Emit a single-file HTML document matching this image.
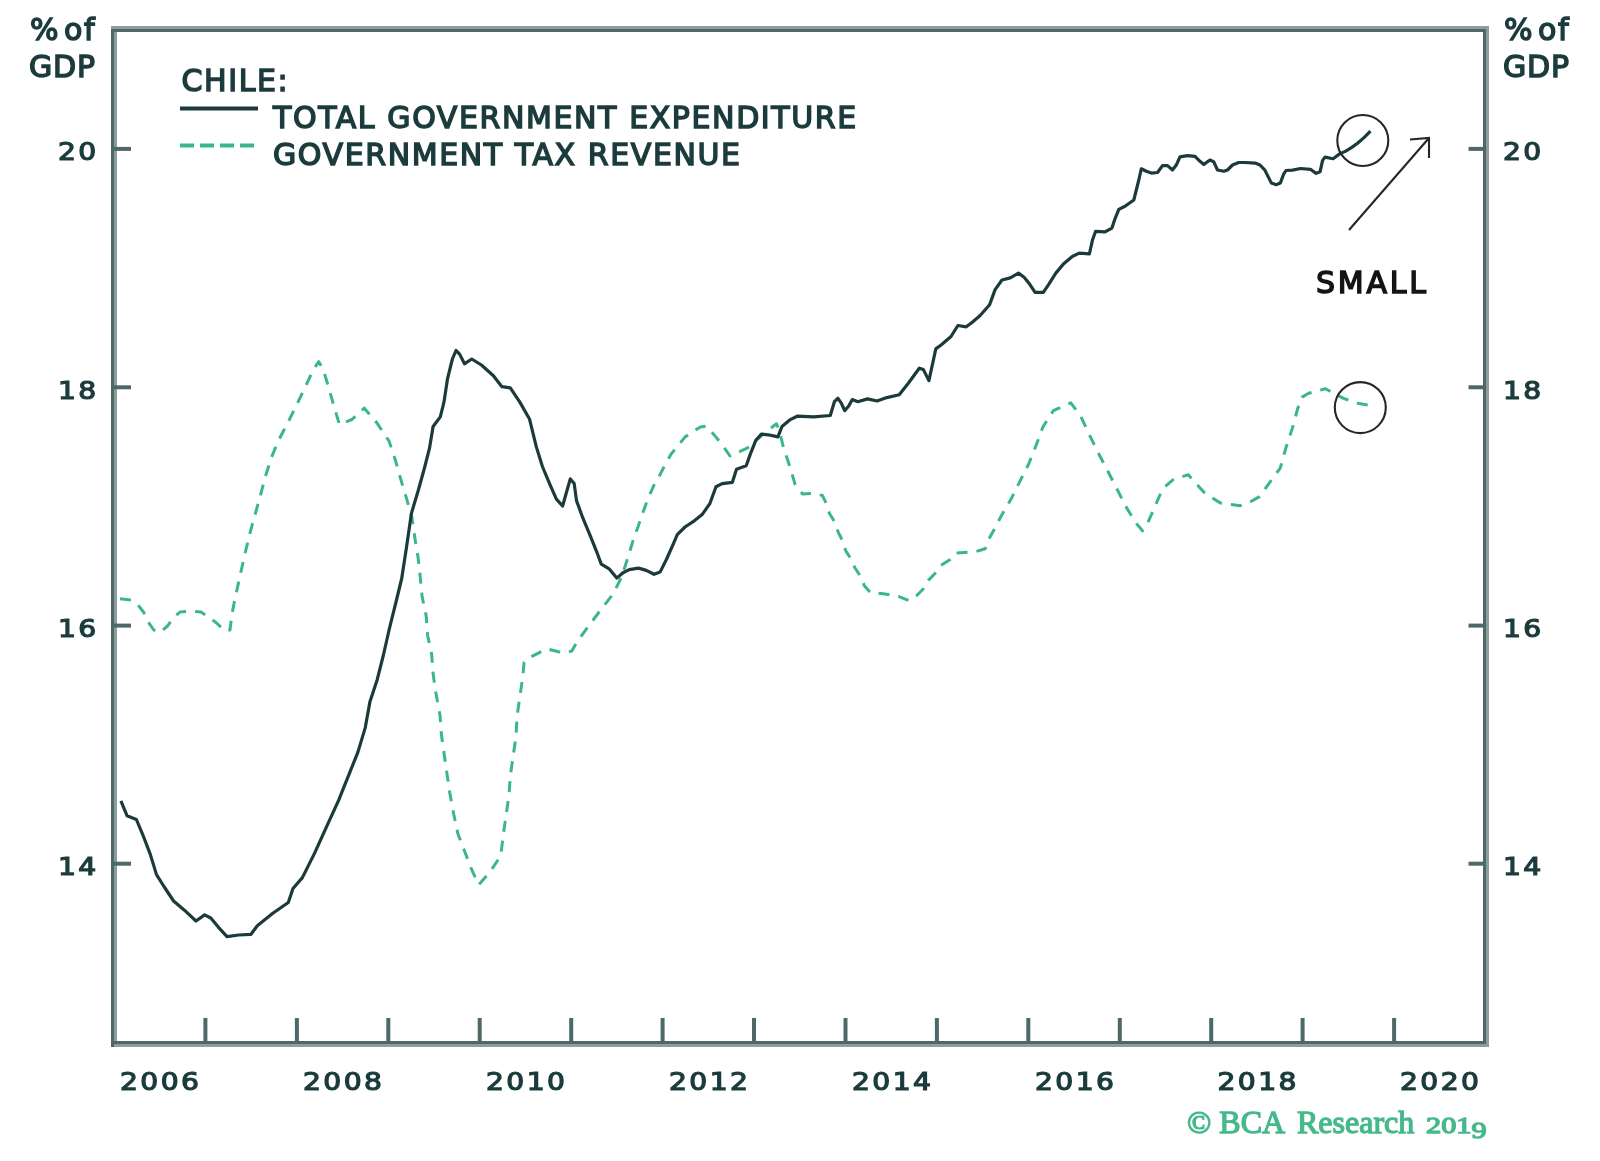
<!DOCTYPE html>
<html><head><meta charset="utf-8"><title>Chile: government expenditure vs tax revenue</title>
<style>
html,body{margin:0;padding:0;background:#fff;}
body{width:1600px;height:1161px;overflow:hidden;}
svg{display:block;filter:blur(0.45px);}
.t{font-family:"DejaVu Sans","Liberation Sans",sans-serif;font-weight:400;fill:#1b3b3c;stroke:#1b3b3c;stroke-width:1.5px;}
.num{font-size:24.5px;letter-spacing:2.1px;stroke-width:1.25px;}
.lg{font-size:30px;letter-spacing:1.6px;}
.sm{fill:#141414;stroke:#141414;letter-spacing:2.8px;}
.cp{font-family:"Liberation Serif","DejaVu Serif",serif;font-size:32px;font-weight:400;fill:#45b98c;stroke:#45b98c;stroke-width:1.3px;}
</style></head>
<body>
<svg width="1600" height="1161" viewBox="0 0 1600 1161">
<rect width="1600" height="1161" fill="#fff"/>
<g fill="#4f6767">
<rect x="111" y="29" width="3" height="1018"/>
<rect x="111" y="29" width="1378" height="3"/>
<rect x="1483" y="29" width="3" height="1015"/>
<rect x="111" y="1041" width="1375" height="3"/>
</g>
<g fill="#8b9e9d">
<rect x="114" y="32" width="3" height="1009"/>
<rect x="111" y="26" width="1378" height="3"/>
<rect x="1486" y="29" width="3" height="1018"/>
<rect x="114" y="1044" width="1372" height="3"/>
</g>
<g stroke="#4d6868" stroke-width="4" fill="none">
<line x1="205.4" y1="1043.5" x2="205.4" y2="1018"/><line x1="296.9" y1="1043.5" x2="296.9" y2="1018"/><line x1="388.3" y1="1043.5" x2="388.3" y2="1018"/><line x1="479.7" y1="1043.5" x2="479.7" y2="1018"/><line x1="571.2" y1="1043.5" x2="571.2" y2="1018"/><line x1="662.6" y1="1043.5" x2="662.6" y2="1018"/><line x1="754.0" y1="1043.5" x2="754.0" y2="1018"/><line x1="845.5" y1="1043.5" x2="845.5" y2="1018"/><line x1="936.9" y1="1043.5" x2="936.9" y2="1018"/><line x1="1028.3" y1="1043.5" x2="1028.3" y2="1018"/><line x1="1119.8" y1="1043.5" x2="1119.8" y2="1018"/><line x1="1211.2" y1="1043.5" x2="1211.2" y2="1018"/><line x1="1302.6" y1="1043.5" x2="1302.6" y2="1018"/><line x1="1394.1" y1="1043.5" x2="1394.1" y2="1018"/>
<line x1="114" y1="148.9" x2="131" y2="148.9"/><line x1="1485.5" y1="148.9" x2="1468.5" y2="148.9"/><line x1="114" y1="387.3" x2="131" y2="387.3"/><line x1="1485.5" y1="387.3" x2="1468.5" y2="387.3"/><line x1="114" y1="625.6" x2="131" y2="625.6"/><line x1="1485.5" y1="625.6" x2="1468.5" y2="625.6"/><line x1="114" y1="863.7" x2="131" y2="863.7"/><line x1="1485.5" y1="863.7" x2="1468.5" y2="863.7"/>
</g>
<polyline points="120.0,598.8 131.0,600.0 138.8,606.0 143.8,612.5 147.5,621.0 153.8,630.0 160.0,632.5 167.5,626.0 173.8,617.5 180.0,612.0 190.0,611.0 201.0,612.0 209.0,617.5 216.0,622.5 225.0,631.0 230.0,630.0 232.0,613.8 235.0,598.8 240.0,576.0 244.0,558.0 249.6,534.2 254.8,515.6 260.0,497.0 265.1,477.4 271.3,457.8 278.6,440.2 287.9,422.6 297.1,404.0 305.4,386.5 313.7,368.9 318.8,361.7 323.0,368.9 328.1,385.5 333.3,404.0 339.5,424.7 351.9,419.5 364.3,408.2 376.7,422.6 389.1,441.2 395.3,459.8 400.5,478.4 406.7,499.1 411.8,516.5 414.9,538.3 418.0,556.9 420.1,575.5 422.1,596.6 426.2,615.9 427.6,635.2 431.7,654.5 433.1,673.8 435.9,693.1 440.0,715.2 441.4,734.5 444.1,753.8 446.9,773.1 449.7,792.4 453.8,814.5 457.9,833.8 464.8,851.7 471.7,869.7 478.6,884.8 489.7,872.4 500.7,855.9 503.4,833.8 506.2,814.5 509.0,795.2 510.3,775.9 513.1,756.6 515.9,737.2 517.2,715.2 520.0,695.9 522.8,676.6 524.1,662.3 532.4,656.1 546.9,648.9 558.6,651.7 565.5,653.0 571.7,651.0 577.9,640.6 589.3,625.1 601.7,608.6 613.0,594.1 621.3,577.6 626.5,562.0 629.2,553.3 633.9,537.8 638.5,525.4 641.6,516.1 647.8,499.1 654.0,485.1 658.7,477.4 664.9,465.0 671.1,454.1 677.3,446.4 685.0,437.1 692.8,431.6 700.5,427.0 706.7,426.2 716.0,437.1 722.2,444.8 730.0,456.0 747.6,447.9 764.1,433.4 776.5,423.8 779.3,430.6 783.4,447.2 788.9,463.7 795.1,484.4 802.7,494.1 813.7,493.4 822.4,495.5 826.6,504.1 829.6,513.8 834.5,521.6 838.1,531.8 842.3,540.3 845.9,551.1 850.7,558.4 855.0,568.0 859.8,575.2 864.6,586.1 870.6,592.7 885.1,593.9 898.4,596.3 909.2,600.6 916.5,595.7 923.7,588.5 928.5,580.1 934.5,574.0 940.6,565.6 950.2,559.6 956.2,552.9 968.3,552.3 975.5,551.7 985.2,548.7 988.8,539.1 993.6,530.6 1001.6,515.3 1010.7,499.8 1019.7,481.7 1028.8,463.7 1036.5,444.3 1043.0,426.8 1053.3,410.7 1070.8,402.9 1080.5,415.8 1089.5,435.2 1098.5,453.3 1107.6,470.8 1116.6,488.2 1125.7,506.3 1136.0,523.1 1142.5,530.8 1146.4,525.7 1152.8,511.5 1160.6,493.4 1163.9,487.6 1172.9,479.8 1188.4,474.7 1193.6,481.1 1203.9,492.1 1209.1,496.0 1220.7,503.1 1240.1,505.7 1250.4,501.8 1259.5,496.6 1269.8,482.4 1280.2,468.2 1286.0,447.5 1292.4,428.1 1297.6,408.8 1302.1,397.1 1308.6,393.3 1325.4,388.7 1343.5,398.4 1359.0,403.6 1368.0,405.0" fill="none" stroke="#3ab78a" stroke-width="3" stroke-dasharray="11 9" stroke-linejoin="round"/>
<polyline points="120.9,800.9 127.0,815.7 136.4,819.5 142.6,834.3 150.3,854.4 156.5,874.6 164.3,887.0 173.6,901.0 184.4,910.2 196.0,921.0 204.6,914.9 210.8,918.0 218.5,927.3 227.0,936.6 238.7,935.0 251.0,934.3 257.3,925.7 272.8,913.3 288.3,902.5 293.0,888.5 302.4,877.6 314.5,853.4 326.5,826.9 338.6,800.3 348.3,776.2 357.9,752.1 365.2,727.9 370.0,701.4 377.2,679.7 383.3,655.5 389.3,629.0 396.5,600.0 401.7,578.5 406.5,547.2 411.4,513.4 418.6,489.3 424.6,467.5 429.5,448.2 433.1,426.5 440.3,416.9 443.9,402.4 447.6,378.3 452.4,359.0 456.0,350.5 459.6,354.1 464.5,363.8 471.7,359.0 481.4,365.0 493.4,375.8 501.9,386.7 510.3,387.9 520.0,402.4 529.6,419.3 536.2,446.4 542.4,466.5 550.2,485.1 556.4,499.1 562.6,506.0 567.2,489.8 570.3,478.9 574.2,483.6 576.5,500.6 582.7,517.7 590.5,536.3 596.7,551.8 601.3,564.2 609.1,568.8 616.8,578.1 623.0,572.7 629.2,569.6 638.5,568.1 646.3,570.4 654.0,574.3 660.2,571.9 666.4,559.5 672.6,545.6 677.3,534.7 685.0,527.0 694.3,520.8 702.1,514.6 709.8,503.7 716.0,486.7 722.2,483.6 732.4,482.3 736.5,469.2 746.2,465.8 750.3,454.1 755.8,440.3 761.4,434.1 768.2,434.8 777.9,436.9 782.0,426.5 790.3,419.6 797.2,416.2 813.7,416.9 830.3,415.5 834.4,401.7 837.8,398.3 841.3,403.1 844.7,410.7 848.9,405.8 852.3,399.6 857.8,401.7 867.5,398.9 877.1,401.0 886.8,397.6 899.2,394.8 908.3,383.3 919.3,368.2 923.4,369.6 928.9,380.6 933.1,361.3 935.8,348.9 941.4,344.8 951.0,336.5 957.9,325.5 966.2,326.8 971.7,322.7 979.9,315.8 989.6,304.8 995.1,289.6 1002.0,280.0 1010.3,277.9 1018.5,273.1 1024.1,277.2 1029.6,284.1 1035.1,292.4 1043.3,292.4 1048.9,284.1 1055.8,273.1 1064.0,263.4 1072.3,256.5 1079.2,253.1 1089.4,253.8 1092.5,240.0 1095.6,231.3 1105.0,231.9 1111.9,228.1 1115.0,218.8 1118.8,209.4 1125.0,206.3 1133.8,200.0 1136.3,190.0 1138.8,180.0 1141.3,168.8 1146.3,171.3 1151.3,173.1 1157.5,172.5 1162.5,165.6 1167.5,165.6 1172.5,170.0 1176.3,165.0 1180.0,156.9 1187.5,155.6 1195.0,156.3 1200.0,161.3 1203.8,164.4 1210.0,160.0 1213.8,161.9 1217.5,170.0 1223.8,171.3 1227.5,170.0 1232.5,165.0 1238.8,162.5 1245.0,162.5 1255.0,163.1 1260.0,165.0 1264.9,170.1 1268.1,176.6 1271.4,183.1 1276.2,184.7 1280.3,183.1 1283.6,174.2 1286.0,170.5 1292.5,170.1 1300.6,168.5 1310.4,169.3 1316.1,173.4 1320.1,171.7 1322.6,160.4 1325.0,157.1 1333.1,158.7 1339.6,153.9 1345.3,151.4 1351.8,147.4 1357.5,143.3 1364.0,137.6 1370.5,131.1" fill="none" stroke="#1d3a3b" stroke-width="3.2" stroke-linejoin="round"/>
<line x1="180" y1="108.5" x2="258" y2="108.5" stroke="#1d3a3b" stroke-width="4"/>
<line x1="180" y1="145.5" x2="254" y2="145.5" stroke="#3ab78a" stroke-width="4" stroke-dasharray="14 6"/>
<g fill="none" stroke="#262626" stroke-width="2.1">
<circle cx="1362.8" cy="140.5" r="25.5"/>
<circle cx="1360.3" cy="407.6" r="25.5"/>
<line x1="1349" y1="230" x2="1429" y2="138"/>
<polyline points="1410,139.5 1429,138 1429,158"/>
</g>
<text class="t lg" x="30" y="40">%</text>
<text class="t lg" x="64" y="40">of</text>
<text class="t lg" x="29" y="77" style="letter-spacing:0.8px">GDP</text>
<text class="t lg" x="1504" y="40">%</text>
<text class="t lg" x="1538" y="40">of</text>
<text class="t lg" x="1503" y="77" style="letter-spacing:0.8px">GDP</text>
<text class="t lg" x="181.5" y="90.5">CHILE:</text>
<text class="t lg" x="273" y="127.5">TOTAL GOVERNMENT EXPENDITURE</text>
<text class="t lg" x="273" y="164.5">GOVERNMENT TAX REVENUE</text>
<text class="t lg sm" x="1316" y="293">SMALL</text>
<text class="t num" transform="translate(58,160) scale(1.15,1)">20</text>
<text class="t num" transform="translate(1503,160) scale(1.15,1)">20</text>
<text class="t num" transform="translate(58,399) scale(1.15,1)">18</text>
<text class="t num" transform="translate(1503,399) scale(1.15,1)">18</text>
<text class="t num" transform="translate(58,637) scale(1.15,1)">16</text>
<text class="t num" transform="translate(1503,637) scale(1.15,1)">16</text>
<text class="t num" transform="translate(58,875) scale(1.15,1)">14</text>
<text class="t num" transform="translate(1503,875) scale(1.15,1)">14</text>
<text class="t num" transform="translate(120,1090) scale(1.15,1)">2006</text>
<text class="t num" transform="translate(303,1090) scale(1.15,1)">2008</text>
<text class="t num" transform="translate(486,1090) scale(1.15,1)">2010</text>
<text class="t num" transform="translate(669,1090) scale(1.15,1)">2012</text>
<text class="t num" transform="translate(852,1090) scale(1.15,1)">2014</text>
<text class="t num" transform="translate(1035,1090) scale(1.15,1)">2016</text>
<text class="t num" transform="translate(1217.5,1090) scale(1.15,1)">2018</text>
<text class="t num" transform="translate(1400,1090) scale(1.15,1)">2020</text>
<text class="cp" x="1187" y="1133">© BCA</text>
<text class="cp" x="1297" y="1133">Research</text>
<text class="cp" transform="translate(1426,1133) scale(1.29,1)" style="font-size:23.5px">201<tspan dy="5">9</tspan></text>
</svg>
</body></html>
